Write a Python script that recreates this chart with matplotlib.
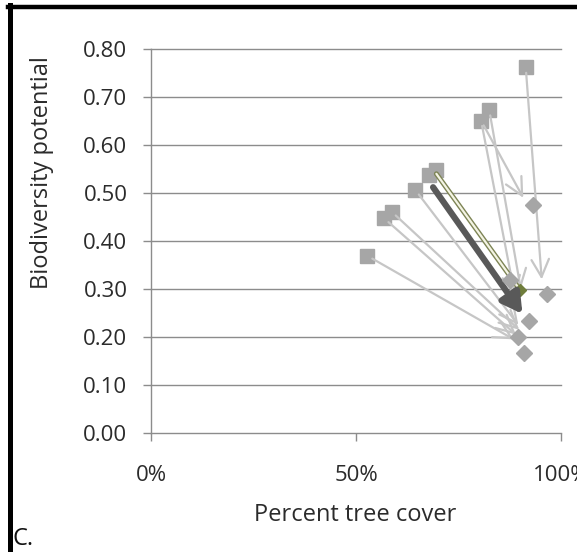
import matplotlib
matplotlib.use("Agg")
import matplotlib.pyplot as plt
from matplotlib.lines import Line2D
import matplotlib.patheffects as pe

# Data (percent tree cover, biodiversity potential)
start_x = [52.8, 56.9, 58.7, 64.5, 67.9, 69.4, 80.5, 82.5, 91.4]
start_y = [0.369, 0.447, 0.461, 0.506, 0.537, 0.548, 0.651, 0.673, 0.762]

arrow_from_x = [52.8, 56.9, 58.7, 64.5, 80.5, 80.5, 82.5, 91.4]
arrow_from_y = [0.369, 0.447, 0.461, 0.506, 0.651, 0.651, 0.673, 0.762]
arrow_to_x = [88.5, 89.0, 89.8, 89.6, 90.8, 88.8, 90.2, 95.3]
arrow_to_y = [0.195, 0.205, 0.215, 0.225, 0.49, 0.285, 0.30, 0.32]

mean_from = (68.8, 0.512)
mean_to = (90.6, 0.248)
olive_from = (69.6, 0.540)
olive_to = (90.0, 0.298)

end_x = [93.1, 96.7, 92.3, 91.0, 87.6, 89.5]
end_y = [0.475, 0.289, 0.234, 0.166, 0.319, 0.200]

yticks = [0.0, 0.1, 0.2, 0.3, 0.4, 0.5, 0.6, 0.7, 0.8]
xticks = [0, 50, 100]
xticklabels = ["0%", "50%", "100%"]

plt.rcParams['font.family'] = ['Open Sans', 'DejaVu Sans']

W, H = 577, 552
fig = plt.figure(figsize=(W / 100, H / 100), dpi=100)
ax = fig.add_axes([151 / W, (H - 433) / H, (561 - 151) / W, (433 - 49) / H])
ax.set_xlim(0, 100)
ax.set_ylim(0, 0.8)

grid_c = "#8c8c8c"
txt_c = "#2b2b2b"
for v in yticks[1:]:
    ax.axhline(v, color=grid_c, lw=1.0, zorder=1, clip_on=False)
for s in ["top", "right"]:
    ax.spines[s].set_visible(False)
for s in ["left", "bottom"]:
    ax.spines[s].set_color(grid_c)
    ax.spines[s].set_linewidth(1.0)

ax.set_yticks(yticks)
ax.set_yticklabels([f"{v:.2f}" for v in yticks])
ax.set_xticks(xticks)
ax.set_xticklabels(xticklabels)
ax.tick_params(axis='both', direction='out', length=6, color=grid_c, width=1.0,
               labelsize=16, labelcolor=txt_c)
ax.tick_params(axis='y', pad=11)
ax.tick_params(axis='x', pad=17)

sq_c = "#a6a6a6"
ax.plot(start_x, start_y, 's', color=sq_c, markersize=9.5, zorder=3, clip_on=False)

arrow_c = "#c6c6c6"
for x0, y0, x1, y1 in zip(arrow_from_x, arrow_from_y, arrow_to_x, arrow_to_y):
    ax.annotate("", xy=(x1, y1), xytext=(x0, y0),
                arrowprops=dict(arrowstyle="->,head_length=0.9,head_width=0.45",
                                color=arrow_c, lw=1.6, mutation_scale=14,
                                shrinkA=4, shrinkB=0), zorder=4)

olive = ax.annotate("", xy=olive_to, xytext=olive_from,
                    arrowprops=dict(arrowstyle="-", color="#f4f4e4", lw=1.6,
                                    shrinkA=0, shrinkB=0), zorder=4)
olive.arrow_patch.set_path_effects([pe.Stroke(linewidth=3.6, foreground="#7d8455"),
                                    pe.Normal()])
ax.plot([olive_to[0]], [olive_to[1]], 'D', color="#6f7d3c", markersize=6, zorder=5)

ax.annotate("", xy=mean_to, xytext=mean_from,
            arrowprops=dict(arrowstyle="-|>,head_length=0.8,head_width=0.45",
                            color="#595959", lw=4.5, mutation_scale=15,
                            shrinkA=0, shrinkB=0), zorder=6)

ax.plot(end_x, end_y, 'D', color=sq_c, markersize=8, zorder=7, clip_on=False)

fig.text(42 / W, 1 - 173 / H, "Biodiversity potential", rotation=90,
         ha='center', va='center', fontsize=17, color=txt_c)
fig.text(355 / W, 1 - 521 / H, "Percent tree cover", ha='center', va='baseline',
         fontsize=17, color=txt_c)
fig.text(13 / W, 1 - 551 / H, "C.", ha='left', va='bottom', fontsize=17, color="#111111")

# frame (top and left edges)
fig.add_artist(Line2D([9.5 / W, 9.5 / W], [0, 1 - 5 / H], color='black', lw=3.6,
                      transform=fig.transFigure))
fig.add_artist(Line2D([8 / W, 1], [1 - 7 / H, 1 - 7 / H], color='black', lw=3.2,
                      transform=fig.transFigure))

fig.savefig("out.png", dpi=100)
